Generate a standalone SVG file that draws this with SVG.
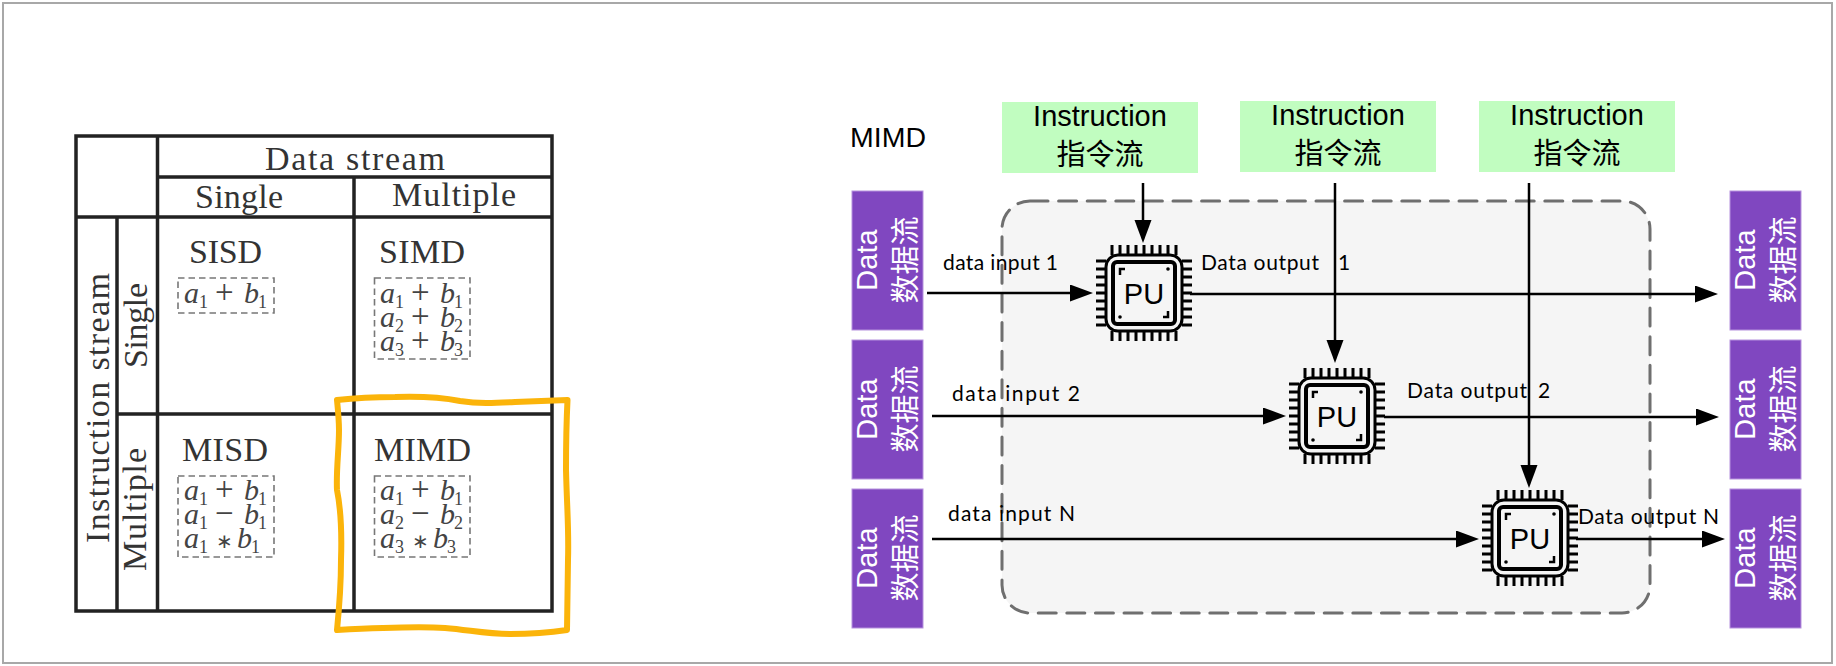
<svg xmlns="http://www.w3.org/2000/svg" width="1836" height="666" viewBox="0 0 1836 666">
<style>
.tl{stroke:#222;stroke-width:3.5;fill:none}
.tt{font-family:"Liberation Serif","Times New Roman",serif;font-size:34px;fill:#333}
.dbx{fill:none;stroke:#777;stroke-width:1.6;stroke-dasharray:6.5 4}
.m{font-family:"Liberation Serif",serif;font-size:30px;fill:#444}
.i{font-style:italic}
.s{font-size:18px}
.o{font-size:33px}
.st{font-size:20px}
.pu{fill:#8047c0;stroke:#b692dd;stroke-width:1}
.gr{fill:#c1fdc0}
.sw{font-family:"Liberation Sans","Noto Sans CJK SC",sans-serif;font-size:29px;fill:#fff;text-anchor:middle}
.bk{font-family:"Liberation Sans","Noto Sans CJK SC",sans-serif;font-size:29px;fill:#000;text-anchor:middle}
.lb{font-family:"Lato","Noto Sans",sans-serif;font-size:21px;fill:#000}
.cn{stroke:#000;stroke-width:2.5;fill:none;marker-end:url(#ah)}
.ch{fill:none;stroke:#000}
</style>
<defs>
<marker id="ah" markerUnits="userSpaceOnUse" markerWidth="24" markerHeight="18" refX="13" refY="8.5" orient="auto"><path d="M0,0L23,8.5L0,17z" fill="#000"/></marker>
<g id="chip">
<path class="ch" stroke-width="3" d="M-32-48V-38M-24-48V-38M-16-48V-38M-8-48V-38M0-48V-38M8-48V-38M16-48V-38M24-48V-38M32-48V-38M-32 38V48M-24 38V48M-16 38V48M-8 38V48M0 38V48M8 38V48M16 38V48M24 38V48M32 38V48M-48-32H-38M-48-24H-38M-48-16H-38M-48-8H-38M-48 0H-38M-48 8H-38M-48 16H-38M-48 24H-38M-48 32H-38M38-32H48M38-24H48M38-16H48M38-8H48M38 0H48M38 8H48M38 16H48M38 24H48M38 32H48"/>
<rect class="ch" stroke-width="3" x="-38" y="-38" width="76" height="76" rx="12"/>
<rect class="ch" stroke-width="4" x="-31" y="-31" width="62" height="62" rx="4"/>
<path class="ch" stroke-width="2.5" d="M-19-24H-24V-18M19 24H24V18"/>
<circle cx="24" cy="-24" r="1.8"/><circle cx="-24" cy="24" r="1.8"/>
<text x="0" y="10.5" font-family="Liberation Sans,sans-serif" font-size="29" text-anchor="middle" fill="#000">PU</text>
</g>
</defs>
<rect width="1836" height="666" fill="#fff"/>
<rect x="3" y="3" width="1829" height="660" fill="#fff" stroke="#a8a8a8" stroke-width="2"/>

<g id="flynn-table">
<rect class="tl" x="76" y="136" width="476" height="475" stroke-width="4"/>
<path class="tl" d="M157.500 136V611M117 217V611M354 177V611M157.500 177H552M76 217H552M117 414H552"/>
<text class="tt" x="265" y="170" textLength="180">Data stream</text>
<text class="tt" x="195" y="208" textLength="88">Single</text>
<text class="tt" x="392" y="206" textLength="124">Multiple</text>
<text class="tt" x="189" y="263" textLength="73">SISD</text>
<text class="tt" x="379" y="263" textLength="86">SIMD</text>
<text class="tt" x="182" y="461" textLength="86">MISD</text>
<text class="tt" x="374" y="461" textLength="97">MIMD</text>
<text class="tt" transform="translate(109 543) rotate(-90)" textLength="270">Instruction stream</text>
<text class="tt" transform="translate(147 368) rotate(-90)" textLength="85">Single</text>
<text class="tt" transform="translate(146 571) rotate(-90)" textLength="123">Multiple</text>
<rect class="dbx" x="178" y="278" width="96" height="35"/>
<rect class="dbx" x="374.500" y="278" width="95.500" height="81"/>
<rect class="dbx" x="178" y="476" width="96" height="81"/>
<rect class="dbx" x="374.500" y="476" width="95.500" height="81"/>
<text class="m" y="303"><tspan class="i" x="184">a</tspan><tspan class="s" x="199" dy="5">1</tspan><tspan class="o" x="215" dy="-5">+</tspan><tspan class="i" x="244">b</tspan><tspan class="s" x="258" dy="5">1</tspan></text>
<text class="m" y="303"><tspan class="i" x="380">a</tspan><tspan class="s" x="395" dy="5">1</tspan><tspan class="o" x="411" dy="-5">+</tspan><tspan class="i" x="440">b</tspan><tspan class="s" x="454" dy="5">1</tspan></text>
<text class="m" y="327"><tspan class="i" x="380">a</tspan><tspan class="s" x="395" dy="5">2</tspan><tspan class="o" x="411" dy="-5">+</tspan><tspan class="i" x="440">b</tspan><tspan class="s" x="454" dy="5">2</tspan></text>
<text class="m" y="351"><tspan class="i" x="380">a</tspan><tspan class="s" x="395" dy="5">3</tspan><tspan class="o" x="411" dy="-5">+</tspan><tspan class="i" x="440">b</tspan><tspan class="s" x="454" dy="5">3</tspan></text>
<text class="m" y="500"><tspan class="i" x="184">a</tspan><tspan class="s" x="199" dy="5">1</tspan><tspan class="o" x="215" dy="-5">+</tspan><tspan class="i" x="244">b</tspan><tspan class="s" x="258" dy="5">1</tspan></text>
<text class="m" y="524"><tspan class="i" x="184">a</tspan><tspan class="s" x="199" dy="5">1</tspan><tspan class="o" x="215" dy="-5">−</tspan><tspan class="i" x="244">b</tspan><tspan class="s" x="258" dy="5">1</tspan></text>
<text class="m" y="548"><tspan class="i" x="184">a</tspan><tspan class="s" x="199" dy="5">1</tspan><tspan class="st" x="216" dy="-5">∗</tspan><tspan class="i" x="237">b</tspan><tspan class="s" x="251" dy="5">1</tspan></text>
<text class="m" y="500"><tspan class="i" x="380">a</tspan><tspan class="s" x="395" dy="5">1</tspan><tspan class="o" x="411" dy="-5">+</tspan><tspan class="i" x="440">b</tspan><tspan class="s" x="454" dy="5">1</tspan></text>
<text class="m" y="524"><tspan class="i" x="380">a</tspan><tspan class="s" x="395" dy="5">2</tspan><tspan class="o" x="411" dy="-5">−</tspan><tspan class="i" x="440">b</tspan><tspan class="s" x="454" dy="5">2</tspan></text>
<text class="m" y="548"><tspan class="i" x="380">a</tspan><tspan class="s" x="395" dy="5">3</tspan><tspan class="st" x="412" dy="-5">∗</tspan><tspan class="i" x="433">b</tspan><tspan class="s" x="447" dy="5">3</tspan></text>
</g>
<path id="highlight" d="M337 400C355 398 375 397 395 397C425 396 445 398 460 401C480 404 495 403 515 402L567.500 400C566 430 566 450 566 470C567 510 569 530 568 560L567 630C547 633 527 634 510 634C485 634 470 630 445 628C415 626 375 628 337 630C340 600 341 580 341 560C342 530 340 505 337 490C336 470 339 450 339 430C339 420 338 410 337 400Z" fill="none" stroke="#fbb40a" stroke-width="6" stroke-linejoin="round"/>

<g id="mimd-region"><rect x="1002" y="201" width="648" height="412" rx="28" fill="#f5f5f5" stroke="#6f6f6f" stroke-width="3" stroke-linecap="round" stroke-dasharray="18 10.6"/></g>
<text id="mimd-title" x="850" y="147" font-family="Liberation Sans,sans-serif" font-size="28.500" fill="#000">MIMD</text>

<g id="instr-1"><rect class="gr" x="1002" y="102" width="196" height="71"/><text class="bk" x="1100" y="126">Instruction</text><text class="bk" x="1100" y="165">指令流</text></g>
<g id="instr-2"><rect class="gr" x="1240" y="101" width="196" height="71"/><text class="bk" x="1338" y="125">Instruction</text><text class="bk" x="1338" y="164">指令流</text></g>
<g id="instr-3"><rect class="gr" x="1479" y="101" width="196" height="71"/><text class="bk" x="1577" y="125">Instruction</text><text class="bk" x="1577" y="164">指令流</text></g>

<g id="data-in-1"><rect class="pu" x="852" y="191" width="71" height="139"/><text class="sw" transform="translate(877 260) rotate(-90)">Data</text><text class="sw" transform="translate(916 260) rotate(-90)">数据流</text></g>
<g id="data-in-2"><rect class="pu" x="852" y="340" width="71" height="139"/><text class="sw" transform="translate(877 409) rotate(-90)">Data</text><text class="sw" transform="translate(916 409) rotate(-90)">数据流</text></g>
<g id="data-in-3"><rect class="pu" x="852" y="489" width="71" height="139"/><text class="sw" transform="translate(877 558) rotate(-90)">Data</text><text class="sw" transform="translate(916 558) rotate(-90)">数据流</text></g>
<g id="data-out-1"><rect class="pu" x="1730" y="191" width="71" height="139"/><text class="sw" transform="translate(1755 260) rotate(-90)">Data</text><text class="sw" transform="translate(1794 260) rotate(-90)">数据流</text></g>
<g id="data-out-2"><rect class="pu" x="1730" y="340" width="71" height="139"/><text class="sw" transform="translate(1755 409) rotate(-90)">Data</text><text class="sw" transform="translate(1794 409) rotate(-90)">数据流</text></g>
<g id="data-out-3"><rect class="pu" x="1730" y="489" width="71" height="139"/><text class="sw" transform="translate(1755 558) rotate(-90)">Data</text><text class="sw" transform="translate(1794 558) rotate(-90)">数据流</text></g>

<g id="connectors">
<line class="cn" x1="1143" y1="183" x2="1143" y2="233"/>
<line class="cn" x1="1335" y1="183" x2="1335" y2="353"/>
<line class="cn" x1="1529" y1="183" x2="1529" y2="478"/>
<line class="cn" x1="927" y1="293" x2="1083" y2="293"/>
<line class="cn" x1="1190" y1="294" x2="1708" y2="294"/>
<line class="cn" x1="932" y1="416" x2="1276" y2="416"/>
<line class="cn" x1="1384" y1="417" x2="1709" y2="417"/>
<line class="cn" x1="932" y1="539" x2="1469" y2="539"/>
<line class="cn" x1="1576" y1="539" x2="1715" y2="539"/>
</g>

<use id="pu-1" href="#chip" x="1144" y="293"/>
<use id="pu-2" href="#chip" x="1337" y="416"/>
<use id="pu-3" href="#chip" x="1530" y="538"/>

<g id="labels">
<text class="lb" x="943" y="270" textLength="115">data input 1</text>
<text class="lb" y="270"><tspan x="1201" textLength="118">Data output</tspan><tspan x="1338">1</tspan></text>
<text class="lb" x="952" y="401" textLength="128">data input 2</text>
<text class="lb" y="398"><tspan x="1407" textLength="120">Data output</tspan><tspan x="1538">2</tspan></text>
<text class="lb" x="948" y="521" textLength="127">data input N</text>
<text class="lb" x="1578" y="524" textLength="141">Data output N</text>
</g>
</svg>
